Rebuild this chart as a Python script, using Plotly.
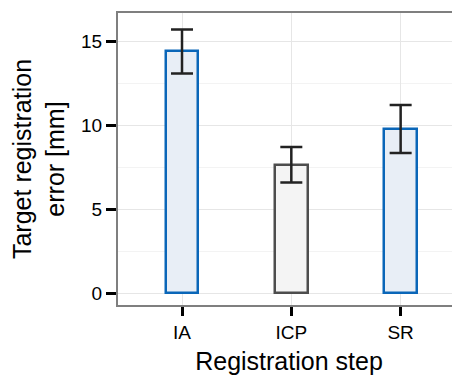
import plotly.graph_objects as go

steps = ["IA", "ICP", "SR"]
tre_mean = [14.42, 7.66, 9.80]
tre_err = [1.31, 1.06, 1.43]
fill_colors = ["#e8eef6", "#f4f4f4", "#e8eef6"]
line_colors = ["#0a66b8", "#4d4d4d", "#0a66b8"]
y_ticks = [0, 5, 10, 15]

FONT = "Liberation Sans, Arial, Helvetica, sans-serif"

fig = go.Figure()
fig.add_trace(go.Bar(
    x=steps, y=tre_mean, width=0.3,
    marker=dict(color=fill_colors, line=dict(color=line_colors, width=2.5)),
    error_y=dict(type="data", array=tre_err, visible=True,
                 color="#222222", thickness=2.5, width=11),
    showlegend=False,
))

# page body has an 8px default margin, so the figure is sized to fill the rest
fig.update_layout(
    width=452, height=369,
    margin=dict(l=110, r=0, t=5, b=72),
    paper_bgcolor="white", plot_bgcolor="white",
    font=dict(family=FONT, color="black"),
    bargap=0,
)
fig.update_xaxes(
    range=[-0.5855, 2.543], automargin=False,
    showline=True, linecolor="#7f7f7f", linewidth=2, mirror=True,
    showgrid=True, gridcolor="#e6e6e6", gridwidth=1.2,
    ticks="outside", ticklen=9, tickwidth=2.5, tickcolor="black",
    tickfont=dict(size=19, family=FONT, color="black"),
    title=dict(text="Registration step", font=dict(size=25, family=FONT, color="black"), standoff=11),
    zeroline=False,
)
fig.update_yaxes(
    range=[-0.70, 16.71], automargin=False,
    tickvals=y_ticks, ticktext=[str(v) for v in y_ticks],
    showline=True, linecolor="#7f7f7f", linewidth=2,
    showgrid=True, gridcolor="#e6e6e6", gridwidth=1.2,
    minor=dict(tickvals=[2.5, 7.5, 12.5], showgrid=True, gridcolor="#f3f3f3", gridwidth=1.2, ticks=""),
    ticks="outside", ticklen=10, tickwidth=3, tickcolor="black",
    tickfont=dict(size=19, family=FONT, color="black"),
    title=dict(text="Target registration<br>error [mm]", font=dict(size=25, family=FONT, color="black"), standoff=10),
    zeroline=False,
)

fig.write_html("out.html")
